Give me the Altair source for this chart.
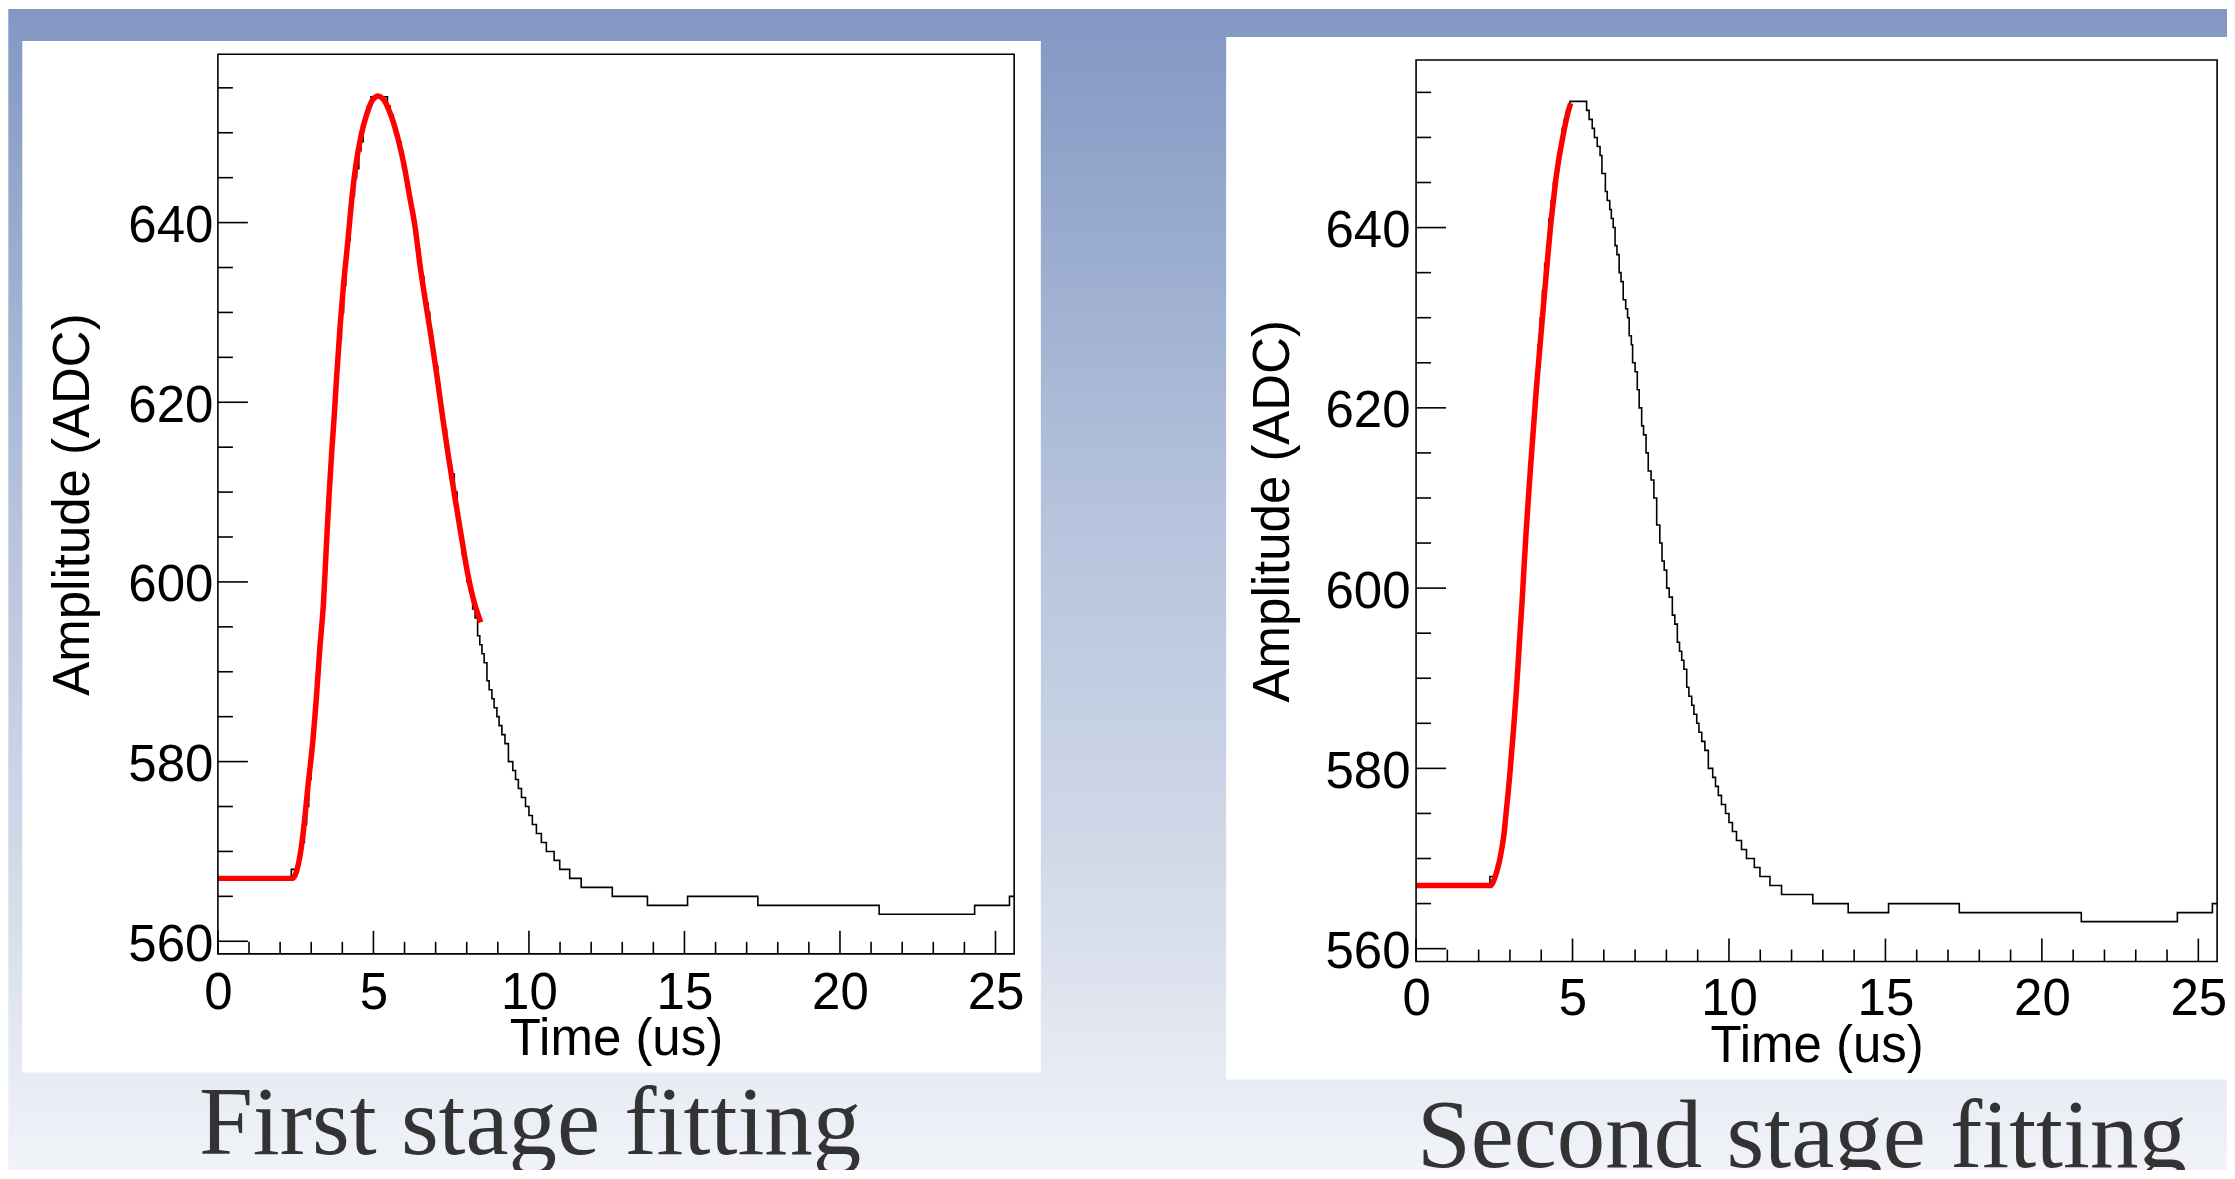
import altair as alt
import pandas as pd

# ---------------- data ----------------
# histogram (same pulse in both panels): start time of each step (us) and ADC level
hist_t = [0.00, 2.36, 2.57, 2.64, 2.71, 2.78, 2.85, 2.92, 2.99, 3.06, 3.13, 3.20, 3.27,
          3.34, 3.41, 3.48, 3.55, 3.62, 3.69, 3.76, 3.83, 3.90, 3.97, 4.04, 4.11, 4.18,
          4.25, 4.32, 4.39, 4.46, 4.53, 4.60, 4.67, 4.74, 4.81, 4.88, 4.92,
          5.45, 5.53, 5.63, 5.70, 5.79, 5.88, 5.94, 6.05, 6.11, 6.19, 6.24, 6.30, 6.36,
          6.42, 6.49, 6.55, 6.62, 6.70, 6.76, 6.81, 6.88, 6.92, 7.00, 7.07, 7.13, 7.21,
          7.27, 7.35, 7.42, 7.51, 7.60, 7.69, 7.79, 7.86, 7.93, 8.01, 8.09, 8.19, 8.27,
          8.35, 8.42, 8.49, 8.56, 8.65, 8.72, 8.81, 8.88, 8.97, 9.04, 9.13, 9.23, 9.34,
          9.48, 9.57, 9.66, 9.76, 9.89, 10.00, 10.11, 10.24, 10.40, 10.56, 10.81, 10.99,
          11.31, 11.68, 12.68, 13.81, 15.10, 17.36, 21.26, 24.33, 25.45, 25.60]
hist_v = [567, 568, 569, 570, 571, 573, 575, 578, 581, 584, 587, 590, 594,
          597, 602, 606, 610, 614, 617, 621, 624, 627, 630, 633, 636, 638,
          641, 643, 645, 646, 648, 649, 651, 652, 653, 653, 654,
          653, 652, 651, 650, 649, 648, 646, 644, 643, 642, 641, 640, 638,
          637, 635, 634, 632, 631, 630, 628, 627, 625, 624, 622, 620, 618,
          617, 615, 613, 612, 610, 607, 605, 603, 602, 600, 599, 597, 596,
          594, 593, 592, 591, 589, 588, 587, 586, 585, 584, 583, 582, 580,
          579, 578, 577, 576, 575, 574, 573, 572, 571, 570, 569, 568,
          567, 566, 565, 564, 565, 564, 563, 564, 565, 565]

# first stage fit (red)
fit1_t = [0.00, 2.40, 2.44, 2.52, 2.60, 2.68, 2.79, 2.90, 3.03, 3.16, 3.27, 3.40, 3.48,
          3.58, 3.66, 3.74, 3.82, 3.93, 4.04, 4.18, 4.31, 4.44, 4.61, 4.79, 4.98, 5.16,
          5.30, 5.40, 5.50, 5.59, 5.80, 5.99, 6.16, 6.34, 6.50, 6.66, 6.85, 7.04, 7.23,
          7.41, 7.62, 7.84, 8.01, 8.19, 8.45]
fit1_v = [567.0, 567.0, 567.1, 567.7, 568.8, 570.4, 573.6, 577.4, 581.5, 586.8, 592.3, 598.0, 603.5,
          610.0, 614.5, 618.5, 623.0, 628.5, 633.1, 638.0, 642.8, 646.5, 649.8, 652.1, 653.7, 654.1,
          653.8, 653.3, 652.5, 651.7, 649.2, 646.3, 643.0, 639.5, 635.2, 631.5, 627.4, 623.0, 618.2,
          614.0, 609.4, 604.8, 601.3, 598.4, 595.5]

# second stage fit (red)
fit2_t = [0.00, 2.38, 2.45, 2.52, 2.60, 2.67, 2.74, 2.81, 2.87, 2.94, 3.00, 3.06, 3.13, 3.20,
          3.26, 3.32, 3.39, 3.45, 3.51, 3.57, 3.64, 3.71, 3.77, 3.82, 3.87, 3.93, 4.02, 4.12,
          4.21, 4.30, 4.39, 4.47, 4.55, 4.65, 4.76, 4.85, 4.94]
fit2_v = [567.0, 567.0, 567.3, 567.9, 568.8, 569.8, 571.1, 572.7, 574.8, 577.2, 579.5, 582.0, 585.0, 588.3,
          591.5, 594.9, 598.6, 602.3, 605.8, 609.0, 612.5, 615.8, 618.6, 621.0, 623.2, 625.6, 629.3, 633.3,
          636.8, 640.2, 643.0, 645.4, 647.3, 649.3, 651.3, 652.7, 653.8]

x_major = [0, 5, 10, 15, 20, 25]
x_minor = [1, 2, 3, 4, 6, 7, 8, 9, 11, 12, 13, 14, 16, 17, 18, 19, 21, 22, 23, 24]
y_major = [560, 580, 600, 620, 640]
y_minor = [565, 570, 575, 585, 590, 595, 605, 610, 615, 625, 630, 635, 645, 650, 655]
x_title = "Time (us)"
y_title = "Amplitude (ADC)"
captions = ["First stage fitting", "Second stage fitting"]

SANS = "Liberation Sans"
SERIF = "Liberation Serif"
FS = 51

one = pd.DataFrame({"a": [0]})
hist_df = pd.DataFrame({"t": hist_t, "v": hist_v, "i": list(range(len(hist_t)))})


def panel(fit_t, fit_v, W, H, ydom, frame_top, white, caption, cap_xy,
          xpad, ypad, xtitle_y, ytitle_x, bg=None):
    xs = alt.Scale(domain=[0, 25.6], nice=False, zero=False)
    ys = alt.Scale(domain=ydom, nice=False, zero=False)
    xaxis = alt.Axis(values=x_major, ticks=False, tickSize=0, domain=False, grid=False,
                     labelFont=SANS, labelFontSize=FS, labelColor="black",
                     labelPadding=xpad, labelOverlap=False, labelFlush=False,
                     title=x_title, titleFont=SANS, titleFontSize=FS, titleFontWeight="normal",
                     titleColor="black", titleX=W / 2, titleY=xtitle_y,
                     titleBaseline="alphabetic", titleAlign="center", zindex=1)
    yaxis = alt.Axis(values=y_major, ticks=False, tickSize=0, domain=False, grid=False,
                     labelFont=SANS, labelFontSize=FS, labelColor="black",
                     labelPadding=ypad, labelOverlap=False, labelFlush=False, labelOffset=4,
                     title=y_title, titleFont=SANS, titleFontSize=FS, titleFontWeight="normal",
                     titleColor="black", titleAngle=270, titleX=ytitle_x, titleY=(H + frame_top) / 2,
                     titleBaseline="alphabetic", titleAlign="center", zindex=1)

    def X(f="t"):
        return alt.X(f"{f}:Q", scale=xs, axis=xaxis)

    def Y(f="v"):
        return alt.Y(f"{f}:Q", scale=ys, axis=yaxis)

    layers = []
    if bg is not None:
        grad = alt.LinearGradient(
            gradient="linear", x1=0, x2=0, y1=0, y2=1,
            stops=[alt.GradientStop(color="#8298c3", offset=0),
                   alt.GradientStop(color="#b4c2dc", offset=0.416),
                   alt.GradientStop(color="#d5dcea", offset=0.755),
                   alt.GradientStop(color="#f3f5f9", offset=1)])
        layers.append(alt.Chart(one).mark_rect(color=grad, strokeWidth=0).encode(
            x=alt.value(bg[0]), x2=alt.value(bg[1]), y=alt.value(bg[2]), y2=alt.value(bg[3])))
    layers.append(alt.Chart(one).mark_rect(color="white", strokeWidth=0).encode(
        x=alt.value(white[0]), x2=alt.value(white[1]), y=alt.value(white[2]), y2=alt.value(white[3])))

    layers.append(alt.Chart(hist_df).mark_line(interpolate="step-after", color="black",
                                               strokeWidth=1.6, clip=True).encode(
        x=X(), y=Y(), order="i:Q"))

    fit_df = pd.DataFrame({"t": fit_t, "v": fit_v, "i": list(range(len(fit_t)))})
    layers.append(alt.Chart(fit_df).mark_line(color="#ff0000", strokeWidth=5.5, clip=True,
                                              interpolate="monotone").encode(
        x=X(), y=Y(), order="i:Q"))

    # inward ticks (ROOT style)
    layers.append(alt.Chart(pd.DataFrame({"v": y_major})).mark_rule(color="black", strokeWidth=1.6).encode(
        y=Y(), x=alt.value(0), x2=alt.value(30)))
    layers.append(alt.Chart(pd.DataFrame({"v": y_minor})).mark_rule(color="black", strokeWidth=1.6).encode(
        y=Y(), x=alt.value(0), x2=alt.value(15)))
    layers.append(alt.Chart(pd.DataFrame({"t": x_major})).mark_rule(color="black", strokeWidth=1.6).encode(
        x=X(), y=alt.value(H), y2=alt.value(H - 23)))
    layers.append(alt.Chart(pd.DataFrame({"t": x_minor})).mark_rule(color="black", strokeWidth=1.6).encode(
        x=X(), y=alt.value(H), y2=alt.value(H - 12)))

    # frame
    layers.append(alt.Chart(one).mark_rect(fillOpacity=0, stroke="black", strokeWidth=1.6).encode(
        x=alt.value(0), x2=alt.value(W), y=alt.value(frame_top), y2=alt.value(H)))

    # caption
    layers.append(alt.Chart(one).mark_text(text=caption, font=SERIF, fontSize=97, color="#333333",
                                           align="center", baseline="alphabetic").encode(
        x=alt.value(cap_xy[0]), y=alt.value(cap_xy[1])))

    return alt.layer(*layers).properties(width=W, height=H)


left = panel(fit1_t, fit1_v, W=796.6, H=900, ydom=[558.6, 658.74], frame_top=0,
             white=(-195.7, 823.3, -13.3, 1018.7), caption=captions[0], cap_xy=(312.3, 1100.7),
             xpad=15, ypad=5, xtitle_y=101, ytitle_x=-129.7,
             bg=(-209.7, 2022.3, -45.3, 1136.7))
right = panel(fit2_t, fit2_v, W=801.4, H=907.7, ydom=[558.57, 659.23], frame_top=5.7,
              white=(-190, 824, -17.3, 1025.7), caption=captions[1], cap_xy=(386, 1113.7),
              xpad=13, ypad=6, xtitle_y=100.5, ytitle_x=-128)

chart = alt.hconcat(left, right, spacing=401.7, bounds="flush").properties(
    padding={"left": 0, "top": 0, "right": -13, "bottom": -21}
).configure_view(stroke=None)

chart.save("out.html", embed_options={"renderer": "svg", "actions": False})
